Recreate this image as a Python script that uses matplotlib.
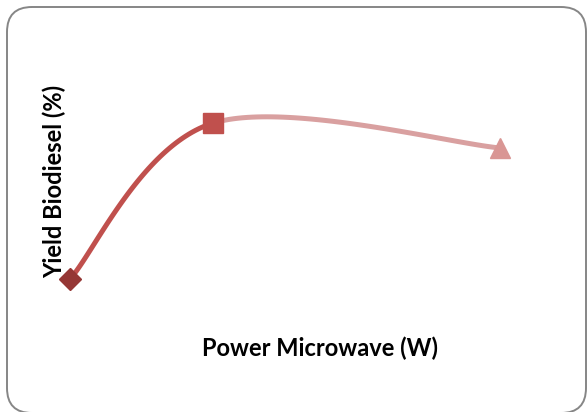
import matplotlib
matplotlib.use("Agg")
import matplotlib.pyplot as plt
import numpy as np
from matplotlib.patches import FancyBboxPatch

# datos (sin ejes visibles en el original, valores estimados)
power = [100, 200, 400]
yield_bd = [60.0, 95.0, 89.4]
markers = ["D", "s", "^"]
colors = ["#953735", "#C0504D", "#D99694"]
seg_colors = ["#C0504D", "#D9A0A0"]


def bezier_seg(p0, p1, p2, p3, n=60):
    t = np.linspace(0, 1, n)[:, None]
    return ((1 - t) ** 3 * p0 + 3 * (1 - t) ** 2 * t * p1
            + 3 * (1 - t) * t ** 2 * p2 + t ** 3 * p3)


pts = np.column_stack([power, yield_bd])
fig = plt.figure(figsize=(5.87, 4.12), dpi=100)

# marco redondeado en coordenadas de pixel
bg = fig.add_axes([0, 0, 1, 1], zorder=-1)
bg.set_xlim(0, 587)
bg.set_ylim(412, 0)
bg.axis("off")
bg.add_patch(FancyBboxPatch((7, 7), 579, 406,
                            boxstyle="round,pad=0,rounding_size=25",
                            fill=False, ec="#868686", lw=1.4, clip_on=False))

ax = fig.add_axes([70 / 587, 1 - 279 / 412, 430 / 587, 156 / 412])
ax.set_xlim(min(power), max(power))
ax.set_ylim(min(yield_bd), max(yield_bd))
ax.axis("off")

# suavizado tipo Excel (Catmull-Rom, tension 1/6)
n = len(pts)
for i in range(n - 1):
    prev = pts[max(i - 1, 0)]
    nxt = pts[min(i + 2, n - 1)]
    c1 = pts[i] + (pts[i + 1] - prev) / 6
    c2 = pts[i + 1] - (nxt - pts[i]) / 6
    seg = bezier_seg(pts[i], c1, c2, pts[i + 1])
    ax.plot(seg[:, 0], seg[:, 1], color=seg_colors[i], lw=3.6,
            solid_capstyle="round", clip_on=False, zorder=2)

sizes = [11, 14, 14]
for x, y, m, c, s in zip(power, yield_bd, markers, colors, sizes):
    ax.plot(x, y, marker=m, color=c, markersize=s, ls="none",
            clip_on=False, zorder=3)

fig.text(320 / 587, 1 - 348 / 412, "Power Microwave (W)", ha="center",
         va="center", fontsize=17, fontweight="bold", family="Lato")
fig.text(54 / 587, 1 - 181 / 412, "Yield Biodiesel (%)", ha="center",
         va="center", rotation=90, fontsize=17, fontweight="bold",
         family="Lato")

plt.savefig("out.png", dpi=100)
